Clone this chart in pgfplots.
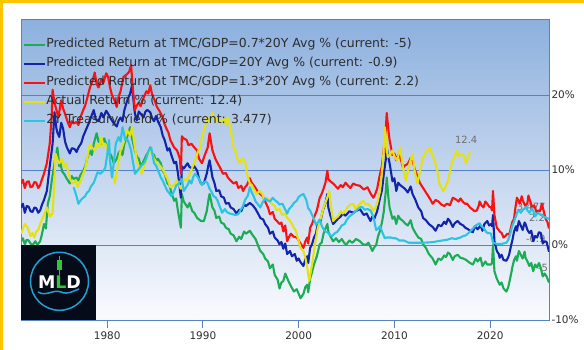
\documentclass[border=0pt]{standalone}
\usepackage{fontspec}
\setmainfont{DejaVu Sans}
\usepackage{pgfplots}
\pgfplotsset{compat=1.18}
\definecolor{cgreen}{RGB}{28,172,84}
\definecolor{cblue}{RGB}{18,36,170}
\definecolor{cred}{RGB}{250,18,18}
\definecolor{cyellow}{RGB}{228,226,18}
\definecolor{ccyan}{RGB}{44,196,226}
\definecolor{axisblue}{RGB}{84,130,196}
\definecolor{bgtop}{RGB}{141,176,222}
\definecolor{bgbot}{RGB}{250,251,254}
\definecolor{bordery}{RGB}{255,196,0}
\definecolor{txtgray}{RGB}{45,45,45}
\definecolor{lblgray}{RGB}{110,110,110}
\definecolor{logobg}{RGB}{5,11,24}
\definecolor{logoteal}{RGB}{34,160,210}
\definecolor{logogreen}{RGB}{46,200,58}
\begin{document}
\begin{tikzpicture}
\fill[white] (-21bp,-30bp) rectangle (563bp,320bp);
\useasboundingbox (-21bp,-30bp) rectangle (563bp,320bp);
\fill[bordery] (-21bp,317bp) rectangle (563bp,320bp);
\fill[bordery] (-21bp,-30bp) rectangle (-18bp,320bp);
\begin{axis}[
  scale only axis, width=528bp, height=300bp,
  at={(0,0)}, anchor=south west,
  xmin=1971, xmax=2026.15, ymin=-10, ymax=30,
  axis background/.style={top color=bgtop, bottom color=bgbot},
  axis line style={axisblue, line width=1bp},
  xtick={1980,1990,2000,2010,2020},
  xticklabels={1980,1990,2000,2010,2020},
  ytick={-10,0,10,20},
  yticklabels={-10\%,0\%,10\%,20\%},
  yticklabel pos=right,
  ymajorgrids, grid style={axisblue, line width=0.8bp},
  xtick pos=bottom,
  major tick length=8bp,
  xtick style={axisblue, line width=1bp, yshift=-8bp},
  ytick style={draw=none},
  xticklabel style={font=\fontsize{10.5}{12}\selectfont, text=txtgray, yshift=-8bp},
  yticklabel style={font=\fontsize{10.5}{12}\selectfont, text=txtgray, xshift=-1bp},
  legend style={at={(0,1)}, anchor=north west, xshift=2bp, yshift=-18.5bp,
    draw=none, fill=none, inner sep=0pt,
    font=\fontsize{12.5}{14}\selectfont, text=txtgray, row sep=7bp,
    nodes={inner sep=0pt, text height=9bp, text depth=3bp},
    /tikz/every even column/.append style={column sep=0bp}},
  legend cell align=left,
  legend image code/.code={\path (0bp,0bp) -- (21bp,0bp); \draw[#1, line width=2bp] (0bp,0bp) -- (15bp,0bp);},
  every axis plot/.append style={line width=2.1bp, line join=round},
]
\node[anchor=center, text=lblgray, font=\fontsize{10}{12}\selectfont] at (axis cs:2017.5,14) {12.4};
\node[anchor=east, text=lblgray, font=\fontsize{10}{12}\selectfont, inner sep=0pt] at (axis cs:2025.8,5.1) {3.477};
\node[anchor=east, text=lblgray, font=\fontsize{10}{12}\selectfont, inner sep=0pt] at (axis cs:2025.75,3.6) {2.2};
\node[anchor=east, text=lblgray, font=\fontsize{10}{12}\selectfont, inner sep=0pt] at (axis cs:2025.8,0.8) {-0.9};
\node[anchor=east, text=lblgray, font=\fontsize{10}{12}\selectfont, inner sep=0pt] at (axis cs:2026.05,-3.1) {-5};

\addplot[cgreen] coordinates {
(1971.0,0.5)(1971.2,0.9)(1971.4,0.1)(1971.6,0.7)(1971.8,0.6)(1972.0,0.2)(1972.2,0.0)(1972.5,0.5)(1972.7,0.0)(1973.0,0.5)(1973.2,1.5)(1973.4,2.8)(1973.6,2.2)(1973.8,5.5)
(1974.0,6.5)(1974.2,8.5)(1974.5,10.9)(1974.8,13.0)(1975.0,10.5)(1975.1,11.0)(1975.3,9.8)(1975.5,9.5)(1975.8,8.8)(1976.1,8.2)(1976.3,9.2)(1976.5,8.8)(1976.8,9.0)
(1977.0,8.6)(1977.2,9.3)(1977.5,9.9)(1977.7,10.5)(1977.9,11.5)(1978.2,12.6)(1978.4,12.0)(1978.6,13.5)(1978.9,14.9)(1979.1,13.8)(1979.4,13.5)(1979.7,14.2)(1980.0,13.0)
(1980.2,12.3)(1980.4,12.0)(1980.7,10.9)(1981.0,11.5)(1981.2,12.3)(1981.4,12.6)(1981.6,12.0)(1981.8,13.5)(1982.1,14.5)(1982.4,15.7)(1982.6,14.2)(1982.9,12.6)
(1983.1,11.8)(1983.3,11.5)(1983.5,10.6)(1983.7,10.9)(1984.1,12.0)(1984.3,12.4)(1984.5,13.0)(1984.7,12.2)(1984.9,12.0)(1985.1,11.2)(1985.3,11.5)(1985.6,10.9)(1985.8,9.9)(1986.0,9.5)
(1986.3,8.2)(1986.5,8.0)(1986.7,7.0)(1987.0,5.9)(1987.2,6.2)(1987.4,4.5)(1987.7,2.3)(1987.8,6.8)(1988.0,5.8)(1988.4,5.0)(1988.6,5.6)(1988.9,4.5)
(1989.1,4.3)(1989.4,3.6)(1989.8,3.2)(1990.1,3.2)(1990.4,4.5)(1990.6,6.2)(1990.7,6.8)(1991.0,5.0)(1991.2,4.6)(1991.4,3.6)(1991.7,3.8)(1991.9,3.0)
(1992.2,2.8)(1992.4,2.3)(1992.7,2.1)(1992.9,1.5)(1993.2,1.3)(1993.5,0.5)(1993.8,1.1)(1994.0,0.8)(1994.3,1.8)(1994.5,1.5)(1994.9,1.9)(1995.2,1.3)(1995.5,0.8)(1995.8,-0.2)(1996.0,-0.8)
(1996.3,-1.2)(1996.5,-1.8)(1996.8,-2.2)(1997.0,-3.1)(1997.3,-2.6)(1997.5,-4.0)(1997.8,-4.6)(1998.0,-5.8)(1998.2,-5.0)(1998.4,-4.8)(1998.6,-3.8)(1998.8,-4.4)(1999.0,-5.0)(1999.2,-5.5)(1999.5,-6.2)
(1999.8,-5.9)(2000.0,-6.5)(2000.2,-7.1)(2000.5,-6.5)(2000.7,-5.6)(2000.9,-5.3)(2001.0,-6.3)(2001.2,-4.5)(2001.4,-3.6)(2001.6,-2.6)(2001.9,-1.5)(2002.2,0.1)(2002.4,0.3)(2002.6,1.5)
(2002.8,2.2)(2003.0,2.8)(2003.1,1.8)(2003.3,1.2)(2003.6,0.5)(2003.9,0.9)(2004.2,0.4)(2004.5,0.8)(2004.8,0.2)(2005.0,0.1)(2005.3,0.6)(2005.6,0.3)(2006.0,0.8)(2006.4,0.5)(2006.7,0.1)(2007.0,0.0)
(2007.3,0.3)(2007.7,-0.8)(2007.9,-0.3)(2008.1,0.0)(2008.3,1.2)(2008.5,1.9)(2008.7,3.0)(2008.9,4.5)(2009.1,7.2)(2009.2,9.0)(2009.4,6.0)(2009.5,5.0)(2009.8,3.5)(2010.0,3.8)(2010.2,2.8)
(2010.4,3.9)(2010.6,3.5)(2010.9,3.2)(2011.1,2.9)(2011.4,2.6)(2011.7,3.3)(2011.9,2.3)(2012.2,1.6)(2012.5,1.0)(2012.8,0.8)(2013.0,0.1)(2013.3,-0.4)(2013.6,-1.2)(2014.0,-1.8)(2014.3,-2.6)
(2014.6,-1.8)(2014.9,-2.0)(2015.2,-1.4)(2015.4,-1.6)(2015.6,-1.0)(2015.8,-1.2)(2016.1,-2.0)(2016.3,-1.5)(2016.6,-1.3)(2016.9,-1.7)(2017.2,-1.8)(2017.5,-2.0)(2017.9,-2.4)(2018.2,-2.6)(2018.5,-1.8)(2018.7,-2.2)
(2019.0,-1.7)(2019.2,-2.8)(2019.5,-2.2)(2019.7,-2.6)(2020.1,-2.6)(2020.2,-2.4)(2020.3,0.0)(2020.45,-3.5)(2020.7,-4.5)(2021.0,-5.3)(2021.2,-5.0)(2021.4,-5.8)
(2021.7,-6.2)(2021.9,-5.6)(2022.0,-5.0)(2022.2,-3.8)(2022.3,-3.1)(2022.5,-2.0)(2022.7,-1.5)(2022.8,-2.1)(2023.0,-0.8)(2023.2,-1.3)(2023.4,-1.8)(2023.6,-0.9)(2023.7,-1.7)(2023.9,-2.2)(2024.1,-2.8)
(2024.3,-2.4)(2024.5,-3.5)(2024.7,-2.6)(2024.9,-3.0)(2025.1,-2.4)(2025.3,-3.1)(2025.5,-4.2)(2025.7,-3.8)(2025.9,-4.2)(2026.15,-5.0)
};
\addlegendentry{Predicted Return at TMC/GDP=0.7*20Y Avg \% (current: -5)}

\addplot[cblue] coordinates {
(1971.0,5.0)(1971.2,5.5)(1971.4,4.3)(1971.6,5.2)(1971.8,5.1)(1972.0,4.5)(1972.2,4.4)(1972.4,5.0)(1972.6,4.9)(1972.8,4.3)(1973.0,4.6)(1973.2,5.4)(1973.4,6.0)(1973.7,7.2)
(1974.0,10.5)(1974.3,13.5)(1974.5,17.7)(1974.7,15.5)(1974.8,15.0)(1975.0,14.4)(1975.2,16.3)(1975.4,15.5)(1975.6,13.8)(1975.8,13.0)(1976.1,12.2)(1976.3,12.9)(1976.6,12.8)
(1976.8,12.4)(1977.0,13.0)(1977.3,13.6)(1977.5,14.5)(1977.9,15.7)(1978.1,16.3)(1978.3,17.0)(1978.6,18.0)(1978.8,16.8)(1979.1,16.5)(1979.4,17.6)(1979.6,17.0)(1979.9,17.9)(1980.1,17.5)
(1980.4,16.8)(1980.7,16.2)(1981.0,15.8)(1981.2,16.6)(1981.4,17.0)(1981.6,16.5)(1981.8,18.0)(1982.1,19.3)(1982.4,20.2)(1982.6,21.3)(1982.8,18.6)(1982.9,17.5)(1983.1,16.6)
(1983.3,17.8)(1983.5,17.5)(1983.8,17.0)(1984.0,17.8)(1984.2,18.0)(1984.5,17.7)(1984.7,16.9)(1984.9,16.5)(1985.1,17.2)(1985.3,16.5)(1985.6,15.7)(1985.8,14.6)(1986.0,14.0)
(1986.3,12.6)(1986.5,12.9)(1986.7,12.0)(1987.0,10.9)(1987.2,11.1)(1987.4,9.5)(1987.7,6.3)(1987.8,10.5)(1988.0,10.2)(1988.4,10.9)(1988.6,10.4)(1988.9,10.2)
(1989.1,10.5)(1989.4,9.9)(1989.6,8.8)(1989.8,8.2)(1990.1,8.2)(1990.4,9.5)(1990.6,10.8)(1990.7,11.3)(1991.0,9.0)(1991.2,8.3)(1991.4,7.2)(1991.7,7.3)(1991.9,6.5)
(1992.2,6.3)(1992.4,5.5)(1992.7,5.6)(1992.9,5.0)(1993.2,4.8)(1993.5,4.2)(1993.8,4.7)(1994.0,4.5)(1994.3,5.4)(1994.5,5.2)(1994.9,5.6)(1995.2,5.3)(1995.5,4.8)(1995.8,4.1)(1996.0,3.6)
(1996.3,3.4)(1996.5,2.8)(1996.8,2.3)(1997.0,1.5)(1997.3,1.8)(1997.5,1.0)(1997.8,0.6)(1998.0,0.1)(1998.2,0.4)(1998.4,-0.5)(1998.6,0.2)(1998.8,-1.2)(1999.1,-0.8)(1999.3,-1.5)(1999.6,-1.2)(1999.8,-2.1)
(2000.0,-1.8)(2000.2,-2.3)(2000.5,-2.8)(2000.7,-1.9)(2000.9,-1.5)(2001.0,-2.4)(2001.2,-0.4)(2001.4,0.1)(2001.6,1.0)(2001.8,1.5)(2002.0,2.8)(2002.3,3.2)(2002.5,4.5)(2002.8,5.6)(2003.0,6.8)
(2003.1,5.0)(2003.3,4.0)(2003.6,2.8)(2003.9,3.2)(2004.1,3.5)(2004.4,3.8)(2004.6,4.2)(2004.9,3.9)(2005.3,4.5)(2005.7,4.3)(2006.1,4.6)(2006.4,4.8)(2006.8,4.0)(2007.1,4.2)(2007.5,3.2)
(2007.7,3.8)(2007.9,3.5)(2008.2,4.5)(2008.5,6.3)(2008.7,7.3)(2008.9,9.5)(2009.1,11.4)(2009.2,13.0)(2009.4,11.5)(2009.5,10.9)(2009.8,8.5)(2010.0,8.9)(2010.2,7.2)(2010.4,8.3)(2010.6,8.0)
(2010.9,7.7)(2011.1,7.5)(2011.4,7.0)(2011.7,7.8)(2011.9,6.8)(2012.2,6.0)(2012.5,5.0)(2012.8,4.5)(2013.0,3.6)(2013.3,3.3)(2013.6,2.8)(2014.0,2.4)(2014.3,1.9)(2014.6,2.7)(2014.9,2.5)
(2015.2,3.1)(2015.4,2.8)(2015.6,3.5)(2015.8,3.2)(2016.1,2.4)(2016.3,2.9)(2016.6,3.2)(2016.9,2.8)(2017.2,2.6)(2017.4,2.3)(2017.7,2.1)(2017.9,1.9)(2018.2,1.7)(2018.4,2.5)(2018.7,2.1)(2019.0,2.6)
(2019.2,1.9)(2019.4,2.8)(2019.7,3.2)(2019.9,2.6)(2020.1,2.8)(2020.2,2.5)(2020.3,4.0)(2020.45,0.5)(2020.7,-0.8)(2020.9,-1.2)(2021.0,-1.7)(2021.2,-1.3)(2021.4,-2.0)
(2021.7,-2.1)(2021.9,-1.6)(2022.0,-1.2)(2022.2,0.0)(2022.3,0.5)(2022.5,1.8)(2022.7,2.5)(2022.8,1.9)(2023.0,3.2)(2023.2,2.6)(2023.4,2.0)(2023.6,3.0)(2023.7,2.8)(2023.9,2.0)(2024.1,1.6)
(2024.3,1.9)(2024.5,0.5)(2024.7,1.2)(2024.9,1.0)(2025.1,1.7)(2025.3,1.6)(2025.5,0.2)(2025.7,0.5)(2025.9,0.4)(2026.15,-0.9)
};
\addlegendentry{Predicted Return at TMC/GDP=20Y Avg \% (current: -0.9)}

\addplot[cred] coordinates {
(1971.0,8.2)(1971.2,8.7)(1971.4,7.6)(1971.6,8.4)(1971.8,8.5)(1972.0,7.7)(1972.2,7.8)(1972.4,8.4)(1972.6,8.3)(1972.8,7.6)(1973.0,8.0)(1973.2,8.8)(1973.4,9.5)(1973.7,10.9)
(1974.0,13.5)(1974.2,17.0)(1974.3,20.7)(1974.5,19.0)(1974.6,18.5)(1974.9,17.0)(1975.2,19.3)(1975.4,18.2)(1975.6,17.5)(1975.9,16.3)(1976.1,15.7)(1976.3,16.5)(1976.5,16.2)
(1976.8,16.4)(1977.0,16.0)(1977.2,17.0)(1977.5,18.0)(1977.7,18.6)(1977.9,19.5)(1978.2,21.0)(1978.5,22.0)(1978.7,23.0)(1978.9,21.5)(1979.1,21.0)(1979.4,22.1)(1979.6,21.6)(1979.9,22.9)(1980.1,22.4)
(1980.3,21.0)(1980.5,20.0)(1980.8,19.2)(1981.0,18.4)(1981.2,19.8)(1981.4,20.5)(1981.7,22.4)(1982.1,22.8)(1982.3,23.1)(1982.5,24.0)(1982.7,20.6)
(1982.9,18.0)(1983.1,18.6)(1983.3,19.0)(1983.5,18.5)(1983.7,19.3)(1984.1,20.5)(1984.3,20.2)(1984.5,21.3)(1984.7,20.0)(1984.9,19.5)(1985.2,18.4)(1985.5,17.8)(1985.8,17.0)
(1986.0,16.1)(1986.2,15.5)(1986.4,15.0)(1986.6,14.0)(1987.0,13.0)(1987.3,12.6)(1987.6,11.5)(1987.7,9.5)(1987.8,14.5)(1988.0,14.2)(1988.3,14.0)
(1988.5,13.3)(1988.8,13.5)(1989.1,13.0)(1989.4,12.6)(1989.6,11.5)(1989.9,10.9)(1990.2,12.0)(1990.5,13.0)(1990.7,14.9)(1990.8,14.1)(1991.0,12.6)(1991.3,11.5)(1991.5,11.0)
(1991.8,10.3)(1992.1,9.5)(1992.4,9.6)(1992.6,9.0)(1992.9,8.6)(1993.2,8.2)(1993.5,8.4)(1993.7,7.6)(1994.0,7.9)(1994.2,7.2)(1994.4,7.7)(1994.6,8.0)(1994.9,8.9)(1995.1,8.3)(1995.4,7.8)
(1995.7,7.2)(1996.0,6.8)(1996.3,6.4)(1996.5,5.8)(1996.8,5.0)(1997.0,4.1)(1997.3,4.4)(1997.5,3.5)(1997.8,3.1)(1998.0,2.8)(1998.2,3.0)(1998.4,1.8)(1998.6,2.6)(1998.8,0.5)(1999.0,1.1)(1999.2,1.5)
(1999.5,1.1)(1999.8,1.0)(2000.0,0.6)(2000.2,0.2)(2000.5,-0.4)(2000.7,0.5)(2000.9,1.0)(2001.0,0.2)(2001.2,2.3)(2001.4,2.8)(2001.7,4.0)(2001.9,4.6)(2002.2,6.3)(2002.4,6.8)(2002.6,7.5)
(2002.8,8.3)(2003.0,9.9)(2003.1,8.8)(2003.3,8.5)(2003.6,8.2)(2003.9,7.8)(2004.1,7.5)(2004.4,8.0)(2004.6,7.7)(2004.9,8.3)(2005.1,8.0)(2005.4,7.6)(2005.7,8.2)(2006.0,8.0)(2006.4,7.9)
(2006.8,7.4)(2007.2,7.7)(2007.5,6.9)(2007.8,6.3)(2008.0,6.8)(2008.2,7.5)(2008.5,9.5)(2008.7,10.5)(2008.9,13.0)(2009.1,15.3)(2009.2,17.6)(2009.4,15.0)(2009.5,14.0)(2009.8,12.0)
(2010.0,12.2)(2010.2,11.3)(2010.4,12.0)(2010.6,11.8)(2010.9,10.3)(2011.1,10.6)(2011.4,10.8)(2011.7,11.6)(2011.9,11.3)(2012.1,10.2)(2012.3,9.5)(2012.5,8.8)(2012.7,8.2)(2013.0,7.6)(2013.3,7.0)
(2013.7,6.2)(2014.0,5.5)(2014.3,6.0)(2014.6,5.8)(2014.9,5.4)(2015.2,5.2)(2015.5,5.5)(2015.8,5.3)(2016.1,6.3)(2016.4,6.1)(2016.7,5.8)(2016.9,6.2)(2017.2,5.7)(2017.4,5.5)(2017.6,5.5)(2017.9,5.0)
(2018.1,4.8)(2018.4,4.5)(2018.6,4.6)(2018.8,5.2)(2018.9,5.8)(2019.1,5.3)(2019.3,5.0)(2019.5,5.8)(2019.7,5.5)(2019.9,5.1)(2020.1,5.0)(2020.2,4.6)(2020.3,7.2)(2020.45,4.0)
(2020.7,2.3)(2020.9,2.0)(2021.0,1.8)(2021.2,1.6)(2021.4,1.0)(2021.6,1.2)(2021.8,1.5)(2022.0,1.4)(2022.1,1.9)(2022.3,3.0)(2022.5,3.5)(2022.6,4.6)(2022.8,6.3)(2023.0,5.8)(2023.1,5.5)
(2023.3,6.5)(2023.4,6.0)(2023.6,5.4)(2023.7,5.2)(2023.9,5.6)(2024.0,6.6)(2024.2,5.8)(2024.4,5.0)(2024.6,5.3)(2024.9,4.2)(2025.0,4.6)(2025.2,4.5)(2025.4,5.5)(2025.5,5.0)(2025.7,4.0)(2025.8,3.5)
(2026.0,3.0)(2026.15,2.2)
};
\addlegendentry{Predicted Return at TMC/GDP=1.3*20Y Avg \% (current: 2.2)}

\addplot[cyellow] coordinates {
(1971.0,1.5)(1971.2,2.2)(1971.4,2.8)(1971.7,2.3)(1972.0,1.2)(1972.2,1.6)(1972.4,1.0)(1972.6,1.8)(1972.8,2.0)(1973.0,2.8)(1973.2,3.4)(1973.4,4.0)
(1973.7,5.0)(1974.0,3.8)(1974.3,4.2)(1974.5,9.0)(1974.6,12.2)(1974.8,11.4)(1975.0,10.9)(1975.3,11.5)(1975.5,10.4)(1975.7,10.9)(1976.0,9.5)(1976.2,8.6)
(1976.4,8.2)(1976.7,8.6)(1976.9,7.7)(1977.2,8.5)(1977.5,9.5)(1977.7,10.2)(1977.9,11.5)(1978.2,13.5)(1978.4,13.0)(1978.7,12.6)(1979.0,13.5)(1979.2,13.1)
(1979.4,14.4)(1979.6,13.2)(1979.8,13.5)(1980.1,12.6)(1980.3,11.5)(1980.5,10.0)(1980.8,8.2)(1981.1,10.5)(1981.4,12.6)(1981.6,13.2)(1981.8,14.0)
(1982.1,15.3)(1982.4,14.6)(1982.6,15.7)(1982.9,13.0)(1983.1,11.3)(1983.3,10.4)(1983.6,9.5)(1984.0,11.0)(1984.2,11.9)(1984.5,12.6)(1984.7,12.2)(1984.9,11.5)
(1985.2,10.9)(1985.5,10.6)(1985.9,9.9)(1986.1,9.3)(1986.3,8.8)(1986.6,7.7)(1987.0,8.0)(1987.3,8.6)(1987.7,7.5)(1988.0,8.8)
(1988.3,8.6)(1988.6,9.4)(1988.8,10.0)(1989.1,11.0)(1989.3,11.7)(1989.5,12.5)(1989.7,13.0)(1990.0,15.0)(1990.2,15.6)(1990.4,17.0)(1990.7,16.4)(1991.0,17.6)(1991.2,16.8)(1991.4,16.5)
(1991.6,17.2)(1991.8,16.2)(1992.0,16.6)(1992.2,16.8)(1992.4,16.1)(1992.6,17.0)(1992.9,15.5)(1993.2,13.0)(1993.4,12.6)(1993.6,11.5)(1993.9,10.9)(1994.1,11.6)(1994.4,11.2)
(1994.6,9.5)(1994.9,8.2)(1995.1,8.0)(1995.3,7.5)(1995.6,6.8)(1995.9,7.2)(1996.2,6.8)(1996.4,6.1)(1996.7,6.3)(1997.0,5.8)(1997.2,5.5)(1997.5,5.2)(1997.7,4.6)(1998.0,4.8)(1998.3,4.0)
(1998.6,4.2)(1998.8,3.6)(1999.0,3.4)(1999.2,3.0)(1999.5,2.3)(1999.7,1.9)(1999.9,1.0)(2000.2,-0.4)(2000.5,-0.8)(2000.7,-1.7)(2000.9,-3.0)(2001.1,-4.8)(2001.4,-2.6)
(2001.7,0.0)(2002.0,2.3)(2002.3,3.5)(2002.6,5.0)(2002.9,6.0)(2003.2,7.2)(2003.4,5.0)(2003.6,3.2)(2003.8,3.5)
(2004.1,3.8)(2004.4,4.5)(2004.6,4.2)(2004.9,4.6)(2005.1,5.0)(2005.4,5.4)(2005.7,5.5)(2005.9,4.9)(2006.2,5.2)(2006.5,5.6)(2006.7,5.9)(2007.0,5.4)(2007.2,5.5)(2007.5,5.2)(2007.8,4.6)
(2008.0,4.9)(2008.2,5.5)(2008.5,7.2)(2008.8,11.0)(2009.0,15.7)(2009.2,13.0)(2009.3,11.7)(2009.5,12.0)(2009.8,12.6)(2010.0,11.8)(2010.3,11.3)(2010.6,13.0)(2010.9,10.3)
(2011.2,8.6)(2011.5,10.5)(2011.9,12.2)(2012.1,10.0)(2012.4,8.2)(2012.7,10.0)(2013.0,11.7)(2013.3,12.4)(2013.7,13.0)(2013.9,12.2)(2014.2,11.3)(2014.5,9.8)(2014.7,8.2)(2015.1,7.2)
(2015.3,7.6)(2015.6,8.6)(2015.8,9.8)(2016.0,10.9)(2016.3,11.9)(2016.5,12.6)(2016.7,11.8)(2017.0,12.2)(2017.2,12.0)(2017.5,10.9)(2017.7,11.8)(2017.9,12.4)
};
\addlegendentry{Actual Return \% (current: 12.4)}

\addplot[ccyan] coordinates {
(1976.5,7.7)(1976.8,6.5)(1977.0,5.5)(1977.2,5.9)(1977.4,6.2)(1977.7,6.5)(1977.9,7.0)(1978.1,7.2)(1978.3,7.8)(1978.6,8.3)(1978.8,9.0)(1979.0,9.7)(1979.3,9.5)
(1979.6,9.9)(1979.8,10.3)(1980.0,12.0)(1980.2,14.0)(1980.3,11.2)(1980.5,9.0)(1980.7,11.0)(1980.9,13.5)(1981.2,14.4)(1981.4,13.8)(1981.6,15.7)(1981.9,14.0)(1982.1,14.1)(1982.3,13.5)
(1982.5,12.6)(1982.7,11.0)(1982.9,9.5)(1983.1,9.8)(1983.4,10.3)(1983.6,10.6)(1983.9,11.0)(1984.1,11.6)(1984.3,12.5)(1984.6,13.0)(1984.9,10.9)(1985.1,10.6)(1985.3,10.0)
(1985.6,9.0)(1985.8,8.6)(1986.0,8.0)(1986.3,7.2)(1986.5,6.9)(1986.7,6.5)(1987.0,7.2)(1987.2,7.9)(1987.5,8.2)(1987.8,8.8)(1988.0,7.2)
(1988.2,7.6)(1988.4,8.0)(1988.6,8.6)(1988.8,8.2)(1989.0,9.1)(1989.2,9.5)(1989.5,9.0)(1989.7,8.5)(1989.9,8.0)(1990.1,8.3)(1990.3,8.5)(1990.5,8.2)(1990.7,7.5)(1990.9,7.1)(1991.1,6.5)
(1991.3,6.4)(1991.5,6.0)(1991.8,5.0)(1992.0,4.3)(1992.3,4.8)(1992.5,4.4)(1992.8,4.2)(1993.1,4.1)(1993.4,4.0)(1993.7,4.1)(1993.9,4.6)(1994.2,5.2)(1994.4,6.0)(1994.7,6.6)(1994.9,7.7)
(1995.1,7.0)(1995.3,6.5)(1995.5,5.8)(1995.7,5.5)(1996.0,5.0)(1996.2,5.6)(1996.5,6.2)(1996.7,6.0)(1997.0,5.8)(1997.3,6.3)(1997.5,6.0)(1997.8,5.7)(1998.0,5.4)(1998.3,5.5)(1998.5,5.0)
(1998.8,4.2)(1999.0,4.8)(1999.3,5.2)(1999.5,5.6)(1999.8,5.9)(2000.0,6.4)(2000.2,6.6)(2000.5,6.8)(2000.8,6.0)(2001.0,4.9)(2001.2,4.6)(2001.4,4.0)(2001.6,3.5)(2001.8,2.7)
(2002.0,3.0)(2002.2,3.4)(2002.4,2.6)(2002.6,2.1)(2002.8,1.8)(2003.0,1.7)(2003.3,1.3)(2003.5,1.2)(2003.8,1.6)(2004.0,1.7)(2004.3,2.2)(2004.5,2.6)(2004.8,2.8)(2005.0,3.3)(2005.3,3.8)
(2005.5,4.0)(2005.8,4.3)(2006.1,4.7)(2006.4,5.0)(2006.6,5.1)(2006.9,4.7)(2007.2,4.8)(2007.5,4.6)(2007.7,4.1)(2007.9,3.2)(2008.1,2.0)(2008.3,2.2)(2008.5,2.5)(2008.8,1.5)
(2009.0,0.9)(2009.2,1.0)(2009.4,1.0)(2009.6,1.0)(2009.9,0.9)(2010.1,0.9)(2010.3,0.8)(2010.5,0.6)(2011.0,0.6)(2011.5,0.3)(2012.0,0.3)(2012.5,0.3)(2013.0,0.3)
(2013.7,0.35)(2014.1,0.4)(2014.5,0.5)(2015.0,0.6)(2015.5,0.7)(2016.0,0.9)(2016.4,0.8)(2016.9,1.0)(2017.2,1.2)(2017.5,1.3)(2017.9,1.8)
(2018.2,2.2)(2018.5,2.6)(2018.9,2.9)(2019.1,2.5)(2019.3,2.3)(2019.5,1.9)(2019.7,1.6)(2019.9,1.6)(2020.1,1.5)(2020.2,0.9)(2020.3,0.3)(2020.7,0.15)(2021.2,0.15)
(2021.7,0.3)(2021.9,0.7)(2022.1,1.5)(2022.3,2.5)(2022.4,2.8)(2022.6,3.5)(2022.8,4.2)(2022.9,4.6)(2023.1,4.5)(2023.2,4.3)(2023.5,4.8)(2023.8,5.1)
(2023.9,4.6)(2024.1,4.3)(2024.3,4.7)(2024.4,4.9)(2024.6,4.2)(2024.7,3.8)(2024.9,4.2)(2025.0,4.3)(2025.3,4.0)(2025.6,3.8)(2025.9,3.6)(2026.15,3.5)
};
\addlegendentry{2Y Treasury Yield \% (current: 3.477)}
\end{axis}
% logo
\fill[logobg] (0bp,0bp) rectangle (75bp,75bp);
\draw[logoteal, line width=1.5bp] (38.5bp,38.7bp) circle (29bp);
\draw[logogreen, line width=1.3bp] (38.4bp,45bp) -- (38.4bp,63.5bp);
\fill[logogreen] (35.7bp,50bp) rectangle (41.2bp,59.5bp);
\node[anchor=base, inner sep=0pt, font=\bfseries\fontsize{17.5}{18}\selectfont] at (38.5bp,32bp)
  {\textcolor{white}{M}\textcolor{logogreen}{L}\textcolor{white}{D}};
\draw[logoteal, line width=1.5bp] (17bp,28bp) .. controls (25bp,23bp) and (32bp,31bp) .. (40bp,28bp)
  .. controls (47bp,25bp) and (52bp,29bp) .. (58bp,31bp);
\end{tikzpicture}
\end{document}
